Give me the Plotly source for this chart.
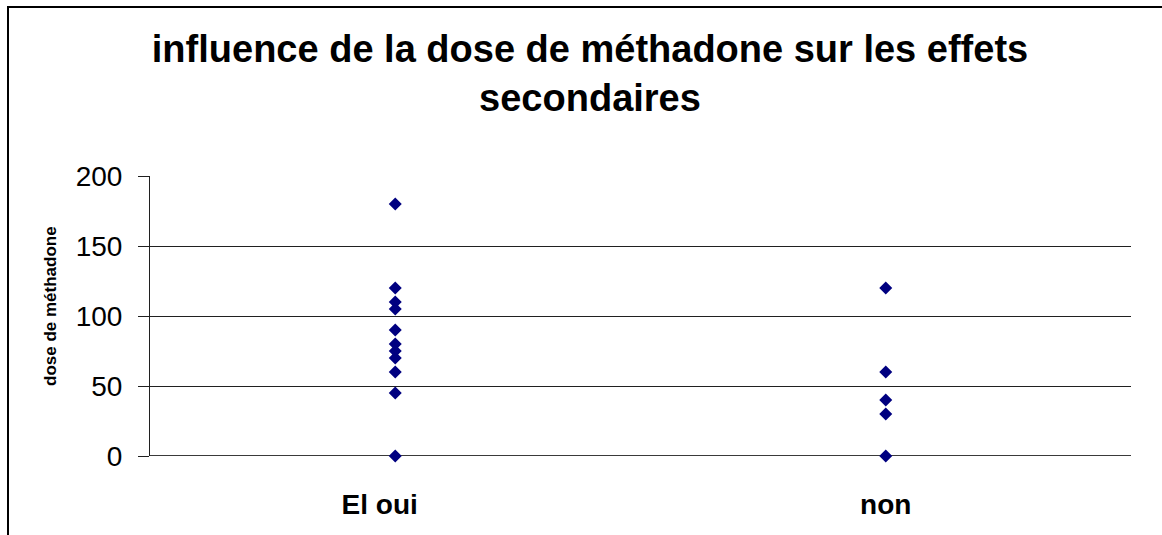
import plotly.graph_objects as go

# Methadone dose per patient, grouped by presence of side effects
groups = ["El oui", "non"]
dose_el_oui = [0, 45, 60, 70, 75, 80, 90, 105, 110, 120, 180]
dose_non = [0, 30, 40, 60, 120]
y_ticks = [0, 50, 100, 150, 200]

x_vals = [groups[0]] * len(dose_el_oui) + [groups[1]] * len(dose_non)
y_vals = dose_el_oui + dose_non

W, H = 1162, 535
L, R, T, B = 150, 31, 176, 79
plot_w = W - L - R
plot_h = H - T - B

fig = go.Figure()
fig.add_trace(go.Scatter(
    x=x_vals, y=y_vals, mode="markers",
    marker=dict(symbol="diamond", size=10, color="#000080",
                line=dict(width=0)),
    showlegend=False, cliponaxis=False,
))

font_family = "Liberation Sans, Arial, sans-serif"

fig.update_layout(
    width=W, height=H, autosize=False,
    margin=dict(l=L, r=R, t=T, b=B, pad=0),
    paper_bgcolor="white", plot_bgcolor="white",
    font=dict(family=font_family, color="black"),
    title=dict(
        text="<b>influence de la dose de méthadone sur les effets<br>secondaires</b>",
        font=dict(size=38, family=font_family, color="black"),
        x=590 / W, xanchor="center", xref="container",
        y=1 - 62 / H, yanchor="top", yref="container",
    ),
    xaxis=dict(
        type="category", categoryorder="array", categoryarray=groups,
        range=[-0.5, 1.5], showgrid=False, zeroline=False,
        showline=False, ticks="",
        tickvals=groups,
        ticktext=[groups[0] + "\u00a0\u00a0\u00a0\u00a0", groups[1]],
        tickfont=dict(size=28, family=font_family, color="black", weight="bold"),
        ticklabelstandoff=29,
    ),
    yaxis=dict(
        range=[0, 200], tickvals=y_ticks, showgrid=True,
        gridcolor="#202020", gridwidth=1, zeroline=False,
        showline=True, linecolor="#202020", linewidth=1,
        ticks="outside", ticklen=11, tickcolor="#202020", tickwidth=1,
        tickfont=dict(size=28, family=font_family, color="black"),
        ticklabelstandoff=10,
    ),
)

# Vertical axis title
fig.add_annotation(
    text="<b>dose de méthadone</b>", textangle=-90,
    xref="paper", yref="paper",
    x=(50 - L) / plot_w, y=(H - B - 306) / plot_h,
    xanchor="center", yanchor="middle", showarrow=False,
    font=dict(size=17, family=font_family, color="black"),
)

# Zero baseline drawn slightly heavier, as in the chart's axis
fig.add_shape(type="line", xref="paper", yref="y", x0=0, x1=1, y0=0, y1=0,
              line=dict(color="#3a3a3a", width=2), layer="below")

# Outer chart frame (left and top edges visible)
fig.add_shape(type="rect", xref="paper", yref="paper",
              x0=(8 - L) / plot_w, x1=(W + 20 - L) / plot_w,
              y0=(H - B - (H + 20)) / plot_h, y1=(H - B - 7) / plot_h,
              line=dict(color="black", width=2), layer="below")

fig.write_html("out.html")
